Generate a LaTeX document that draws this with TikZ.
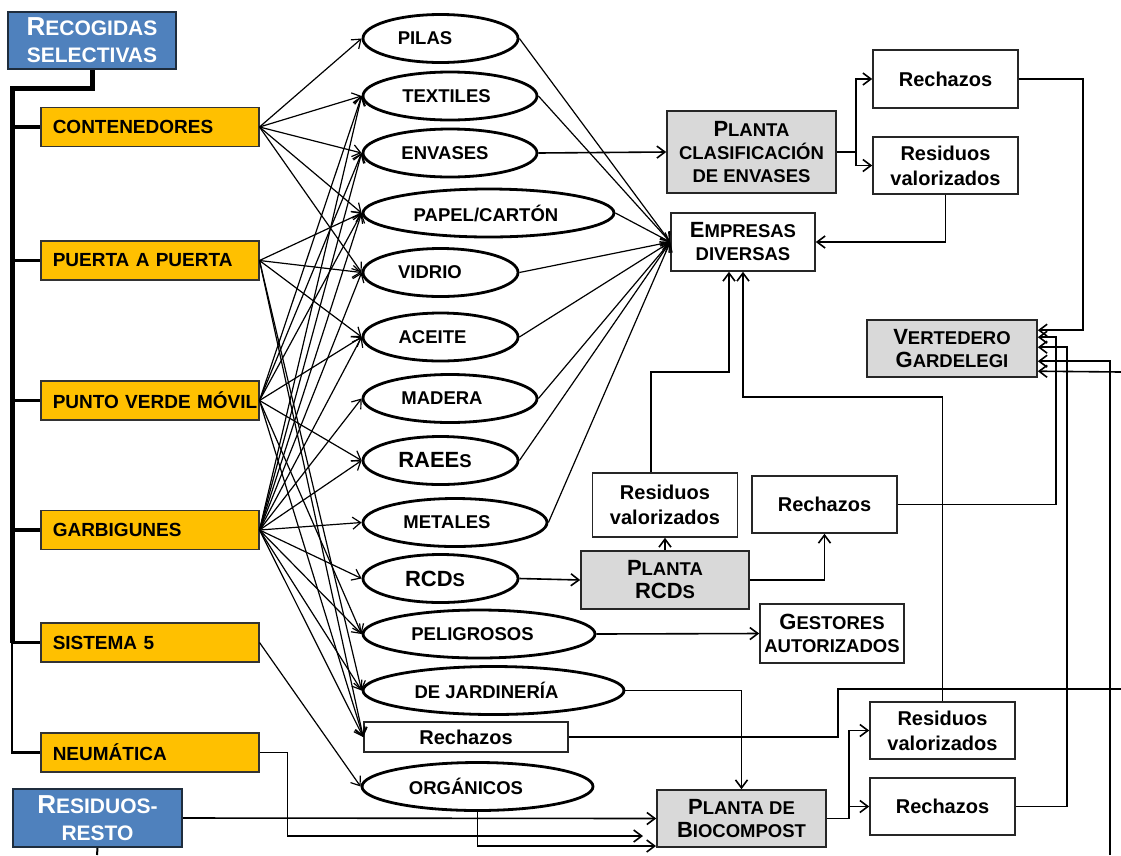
\documentclass[tikz,border=0pt]{standalone}
\usepackage{fontspec}
\setmainfont{Liberation Sans}
\usetikzlibrary{shapes.geometric,arrows.meta,calc}
\definecolor{ygold}{HTML}{FFC000}
\definecolor{hblue}{HTML}{4F81BD}
\definecolor{hedge}{HTML}{1F2D3D}
\definecolor{pgray}{HTML}{D9D9D9}
% larger initial letters for the small-caps style titles
\newcommand\capL[1]{{\fontsize{22}{23}\selectfont #1}}
\newcommand\capH[1]{{\fontsize{26}{27}\selectfont #1}}
\tikzset{
  hbox/.style={draw=hedge,line width=2pt,fill=hblue,text=white,align=center,inner sep=2pt,
    font=\fontsize{21}{27}\selectfont\bfseries},
  ybox/.style={draw=black!80,line width=1.5pt,fill=ygold,anchor=west,minimum height=39pt,
    text width=194pt,inner xsep=12pt,inner ysep=0pt,align=left,
    font=\fontsize{19}{22}\selectfont\bfseries},
  ell/.style={ellipse,draw,line width=2.8pt,fill=white,minimum height=48pt,inner sep=0pt},
  elab/.style={font=\fontsize{18.5}{20}\selectfont\bfseries,inner sep=0pt},
  gbox/.style={draw=black!85,line width=1.6pt,fill=pgray,align=center,inner sep=1pt,
    font=\fontsize{18.5}{23}\selectfont\bfseries},
  wbox/.style={draw=black!85,line width=1.6pt,fill=white,align=center,inner sep=1pt,
    font=\fontsize{20}{25}\selectfont\bfseries},
  scbox/.style={wbox,font=\fontsize{18.5}{23}\selectfont\bfseries},
  fan/.style={->,line width=1.2pt},
  link/.style={->,line width=1.6pt},
  trunk/.style={line width=5pt},
  branch/.style={line width=3.5pt},
}
\begin{document}
\begin{tikzpicture}[x=1pt,y=-1pt,font=\bfseries,>={Straight Barb[length=8pt,width=12pt]}]
\fill[white] (0,0) rectangle (1121,855);
\useasboundingbox (0,0) rectangle (1121,855);

% collection systems
\node[hbox,minimum width=168pt,minimum height=57pt] (rs) at (92,40.5) {\capH{R}ECOGIDAS\\SELECTIVAS};
\node[hbox,minimum width=169pt,minimum height=58pt] (rr) at (97.5,818) {\capH{R}ESIDUOS-\\RESTO};

\node[ybox] (cont) at (40,127) {CONTENEDORES};
\node[ybox] (ppa) at (40,260.5) {PUERTA A PUERTA};
\node[ybox] (pvm) at (40,400.5) {\mbox{PUNTO VERDE MÓVIL}};
\node[ybox] (garb) at (40,530) {GARBIGUNES};
\node[ybox] (s5) at (40,642.5) {SISTEMA 5};
\node[ybox] (neu) at (40,752.5) {NEUMÁTICA};

% tree
\coordinate (t0) at (12,88);
\coordinate (t5) at (12,643);
\draw[trunk] (rs.south) |- (t0) -- (t5);
\foreach \n in {cont,ppa,pvm,garb,s5} \draw[branch] (t0 |- \n.west) -- (\n.west);
\draw[line width=2.2pt] (t5) |- (neu.west);
\coordinate (rrb) at (97,855);
\draw[line width=2pt] (rr.south) -- (rrb);

% waste fractions
\node[ell,minimum width=155pt,label={[elab,xshift=-15.5pt]center:PILAS}] (pilas) at (440.5,38.5) {};
\node[ell,minimum width=174pt,label={[elab,xshift=-3.5pt]center:TEXTILES}] (text) at (450,96) {};
\node[ell,minimum width=174pt,label={[elab,xshift=-5pt]center:ENVASES}] (env) at (450,153) {};
\node[ell,minimum width=251pt,label={[elab,xshift=-2.5pt]center:PAPEL/CARTÓN}] (papel) at (488.5,213) {};
\node[ell,minimum width=155pt,label={[elab,xshift=-10.5pt]center:VIDRIO}] (vid) at (440.5,272.5) {};
\node[ell,minimum width=155pt,label={[elab,xshift=-8pt]center:ACEITE}] (ace) at (440.5,337) {};
\node[ell,minimum width=174pt,label={[elab,xshift=-8pt]center:MADERA}] (mad) at (450,398.5) {};
\node[ell,minimum width=155pt,label={[elab,xshift=-5.5pt]center:\capL{RAEE}S}] (raee) at (440.5,460.5) {};
\node[ell,minimum width=184pt,label={[elab,xshift=-8pt]center:METALES}] (met) at (455,522.5) {};
\node[ell,minimum width=155pt,label={[elab,xshift=-5.5pt]center:\capL{RCD}S}] (rcd) at (440.5,578.5) {};
\node[ell,minimum width=232pt,label={[elab,xshift=-6.5pt]center:PELIGROSOS}] (pel) at (479,634) {};
\node[ell,minimum width=261pt,label={[elab,xshift=-7pt]center:DE JARDINERÍA}] (jar) at (493.5,690.5) {};
\node[wbox,minimum width=204pt,minimum height=30pt] (rech) at (466,737) {Rechazos};
\node[ell,minimum width=231pt,label={[elab,xshift=-11.5pt]center:ORGÁNICOS}] (org) at (477.5,786.5) {};

% plants and destinations
\node[gbox,minimum width=169pt,minimum height=82pt] (pce) at (751.5,152) {\capL{P}LANTA\\CLASIFICACIÓN\\DE ENVASES};
\node[wbox,minimum width=145pt,minimum height=58pt] (rech1) at (945.5,79) {Rechazos};
\node[wbox,minimum width=145pt,minimum height=57pt] (res1) at (945.5,165.5) {Residuos\\valorizados};
\node[scbox,minimum width=144pt,minimum height=58pt] (emp) at (743,242) {\capL{E}MPRESAS\\DIVERSAS};
\node[gbox,minimum width=170pt,minimum height=57pt] (vert) at (952,348.5) {\capL{V}ERTEDERO\\\capL{G}ARDELEGI};
\node[wbox,minimum width=145pt,minimum height=64pt] (res2) at (665,505) {Residuos\\valorizados};
\node[wbox,minimum width=145pt,minimum height=57pt] (rech2) at (824.5,504.5) {Rechazos};
\node[gbox,minimum width=168pt,minimum height=58pt] (prcd) at (665,580) {\capL{P}LANTA\\\capL{RCD}S};
\node[scbox,minimum width=144pt,minimum height=59pt] (gest) at (832,633.5) {\capL{G}ESTORES\\AUTORIZADOS};
\node[gbox,minimum width=169pt,minimum height=57pt] (bio) at (741.5,818.5) {\capL{P}LANTA DE\\\capL{B}IOCOMPOST};
\node[wbox,minimum width=145pt,minimum height=57pt] (res3) at (942.5,730.5) {Residuos\\valorizados};
\node[wbox,minimum width=145pt,minimum height=57pt] (rech3) at (942.5,806.5) {Rechazos};

% collection system -> fraction
\foreach \t in {pilas,text,env,papel,vid} \draw[fan] (cont.east) -- (\t.west);
\foreach \t in {papel,vid,ace,jar,rech} \draw[fan] (ppa.east) -- (\t.west);
\foreach \t in {text,env,papel,ace,raee,pel,rech} \draw[fan] (pvm.east) -- (\t.west);
\foreach \t in {text,env,papel,vid,ace,mad,raee,met,rcd,pel,jar,rech} \draw[fan] (garb.east) -- (\t.west);
\draw[fan] (s5.east) -- (org.west);

% fraction -> destination
\foreach \s in {pilas,text,papel,vid,ace,mad,raee,met} \draw[fan] (\s.east) -- (emp.west);
\draw[link] (env.east) -- (pce.west);
\draw[link] (rcd.east) -- (prcd.west);
\draw[link] (pel.east) -- (gest.west);
\draw[link] (jar.east) -| (bio.north);
\coordinate (rj) at (838,689);
\coordinate (rx) at (1121,689);
\draw[line width=2.4pt] (rech.east) -| (rj) -- (rx);
\coordinate (orgIn) at (656,846);
\draw[link] (org.south) |- (orgIn);
\draw[link] (rr.east) -- (bio.west);
\coordinate (neuIn) at (643,836);
\draw[link] (neu.east) -- ++(28,0) |- (neuIn);

% plant outputs
\draw[link] (pce.east) -- ++(19,0) |- (rech1.west);
\draw[link] (pce.east) -- ++(19,0) |- (res1.west);
\draw[link] (res1.south) |- (emp.east);
\draw[link] (prcd.north) -- (res2.south);
\draw[link] (prcd.east) -| (rech2.south);
\draw[link] ([xshift=-14pt]res2.north) -- ++(0,-100) -| ([xshift=-14pt]emp.south);
\draw[link] (res3.north) -- ++(0,-304) -| (emp.south);
\draw[link] (bio.east) -- ++(22,0) |- (res3.west);
\draw[link] (bio.east) -- ++(22,0) |- (rech3.west);

% landfill inputs
\path (vert.north east) ++(0,11) coordinate (vin1)
      (vert.north east) ++(0,18) coordinate (vin2)
      (vert.north east) ++(0,28) coordinate (vin3)
      (vert.north east) ++(0,42) coordinate (vin4)
      (vert.north east) ++(0,52) coordinate (vin5);
\draw[link] (rech1.east) -- ++(64,0) |- (vin1);
\draw[link] (rech2.east) -- ++(158,0) |- (vin2);
\draw[link] (rech3.east) -- ++(51,0) |- (vin3);
\coordinate (eb) at (1110,855);
\draw[link] (eb) |- (vin4);
\coordinate (er) at (1121,372);
\draw[link] (er) -- (vin5);
\end{tikzpicture}
\end{document}
